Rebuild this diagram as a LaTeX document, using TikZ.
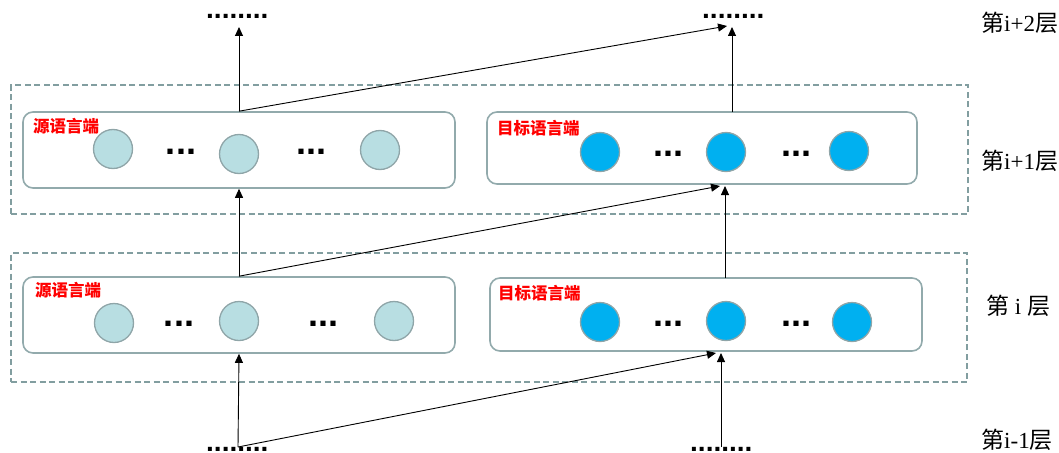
\documentclass[tikz,border=0pt]{standalone}
\usepackage{fontspec}
\setmainfont{Liberation Serif}
\newfontfamily\cjk{Noto Sans CJK SC}
\newfontfamily\dotfont{Liberation Sans}
\usetikzlibrary{arrows.meta}

\definecolor{layergray}{HTML}{829EA0}
\definecolor{panelgray}{HTML}{92AAAC}
\definecolor{ringgray}{HTML}{8FA5A8}
\definecolor{tealfill}{HTML}{B8DEE2}
\definecolor{bluefill}{HTML}{00B0F0}
\definecolor{labelred}{HTML}{FF0000}

\tikzset{
  layerbox/.style={draw=layergray, line width=2.4pt, dash pattern=on 6pt off 3.5pt,
    inner sep=0pt},
  panel/.style={draw=panelgray, line width=1.6pt, rounded corners=10pt, inner sep=0pt},
  unit/.style={circle, draw=ringgray, line width=1.3pt, minimum size=39pt, inner sep=0pt},
  srcunit/.style={unit, fill=tealfill},
  tgtunit/.style={unit, fill=bluefill},
  ellip/.style={anchor=base, inner sep=0pt, text height=6pt, text depth=0pt,
    font=\dotfont\bfseries\fontsize{36pt}{36pt}\selectfont},
  trail/.style={anchor=base west, inner sep=0pt, text height=4pt, text depth=0pt,
    font=\dotfont\bfseries\fontsize{28pt}{28pt}\selectfont},
  sidetag/.style={anchor=west, inner sep=0pt, text=labelred,
    font=\cjk\bfseries\fontsize{16.5pt}{17pt}\selectfont},
  layername/.style={anchor=west, inner sep=0pt, font=\fontsize{23pt}{25pt}\selectfont},
  arr/.style={-{Triangle[length=9pt,width=8pt]}, line width=0.9pt, black},
}

\begin{document}
\begin{tikzpicture}[x=1pt, y=-1pt]
\useasboundingbox (0,0) rectangle (1059,452);

% layer frames
\node[layerbox, minimum width=957pt, minimum height=129pt] (layerUp) at (489.5,149.5) {};
\node[layerbox, minimum width=956pt, minimum height=129pt] (layerLo) at (489,317.5) {};

% source / target panels
\node[panel, minimum width=432pt, minimum height=76pt] (usrc) at (239,150) {};
\node[panel, minimum width=430pt, minimum height=72pt] (utgt) at (702,148) {};
\node[panel, minimum width=432pt, minimum height=76pt] (lsrc) at (239,315) {};
\node[panel, minimum width=432pt, minimum height=73pt] (ltgt) at (706,314.5) {};

% panel titles
\node[sidetag] (usrcT) at (33,126) {源语言端};
\node[sidetag] (utgtT) at (497,128) {目标语言端};
\node[sidetag] (lsrcT) at (35,290) {源语言端};
\node[sidetag] (ltgtT) at (498,293) {目标语言端};

% hidden units, layer i+1
\node[srcunit] (us1) at (113,149) {};
\node[srcunit] (us2) at (239,154) {};
\node[srcunit] (us3) at (380,150) {};
\node[tgtunit] (ut1) at (600,152) {};
\node[tgtunit] (ut2) at (726,152) {};
\node[tgtunit] (ut3) at (849,151) {};
% hidden units, layer i
\node[srcunit] (ls1) at (114,323) {};
\node[srcunit] (ls2) at (239,321) {};
\node[srcunit] (ls3) at (394,321) {};
\node[tgtunit] (lt1) at (600,322) {};
\node[tgtunit] (lt2) at (726,321) {};
\node[tgtunit] (lt3) at (852,322) {};

% ellipses between units
\node[ellip] (usd1) at (181,154.5) {...};
\node[ellip] (usd2) at (311,154.5) {...};
\node[ellip] (utd1) at (668,156.5) {...};
\node[ellip] (utd2) at (796,156.5) {...};
\node[ellip] (lsd1) at (179,326.5) {...};
\node[ellip] (lsd2) at (323,326.5) {...};
\node[ellip] (ltd1) at (668,326.5) {...};
\node[ellip] (ltd2) at (796,326.5) {...};

% layers above and below
\node[trail] (topLdots) at (206,19) {........};
\node[trail] (topRdots) at (702,19) {........};
\node[trail] (botLdots) at (206,451.5) {........};
\node[trail] (botRdots) at (690,451.5) {........};

% layer names
\node[layername] (nI2) at (981,23) {{\cjk 第}i+2{\cjk 层}};
\node[layername] (nI1) at (981,161) {{\cjk 第}i+1{\cjk 层}};
\node[layername] (nI0) at (986,306) {{\cjk 第} i {\cjk 层}};
\node[layername] (nIm) at (981,440) {{\cjk 第}i-1{\cjk 层}};

% connection points
\coordinate (botL) at (238,447);
\coordinate (botR) at (721,447);
\coordinate (ltgtInD) at (716,353);
\coordinate (ltgtInV) at (721,353);
\coordinate (ltgtOut) at (725,278);
\coordinate (utgtInD) at (720,186);
\coordinate (utgtInV) at (725,186);
\coordinate (utgtOut) at (732,112);
\coordinate (topL) at (239,27);
\coordinate (topRd) at (727,26);
\coordinate (topRv) at (732,27);

% connections from layer i-1
\draw[arr] (botL) -- (lsrc.south);
\draw[arr] (botL) -- (ltgtInD);
\draw[arr] (botR) -- (ltgtInV);
% connections from layer i
\draw[arr] (lsrc.north) -- (usrc.south);
\draw[arr] (lsrc.north) -- (utgtInD);
\draw[arr] (ltgtOut) -- (utgtInV);
% connections from layer i+1
\draw[arr] (usrc.north) -- (topL);
\draw[arr] (usrc.north) -- (topRd);
\draw[arr] (utgtOut) -- (topRv);
\end{tikzpicture}
\end{document}
